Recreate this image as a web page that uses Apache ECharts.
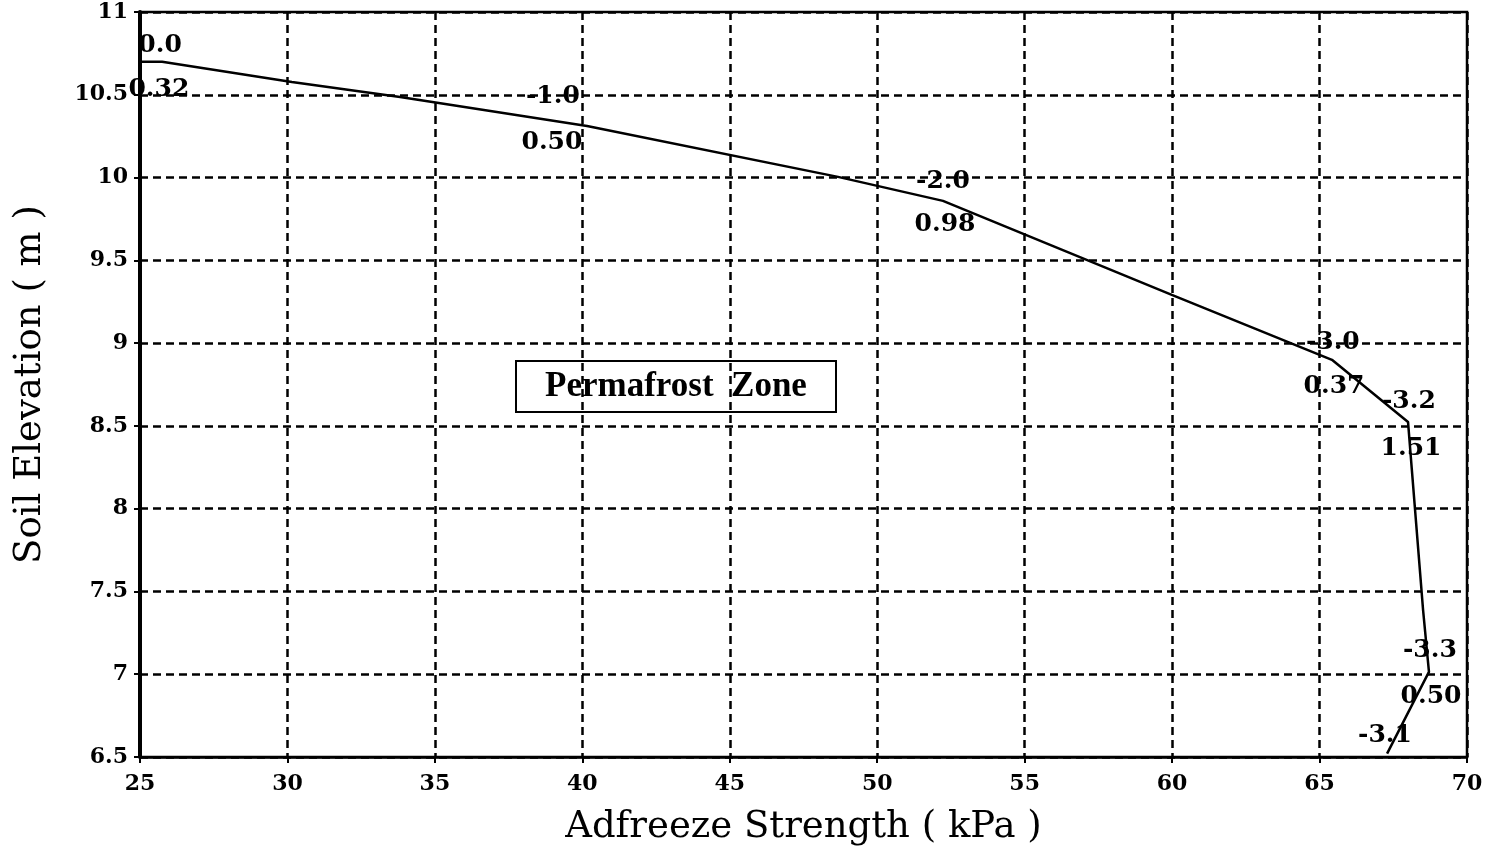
<!DOCTYPE html>
<html>
<head>
<meta charset="utf-8">
<script src="https://cdn.jsdelivr.net/npm/echarts@6/dist/echarts.min.js"></script>
<style>
html,body{margin:0;padding:0;background:#fff;}
#chart{width:1488px;height:848px;}
</style>
</head>
<body>
<div id="chart"></div>
<script>
// Profile curve: adfreeze strength (kPa) vs soil elevation (m)
const strength = [25.0, 25.75, 30.15, 33.82, 40.16, 48.67, 52.23, 59.99, 65.42, 68.0, 68.13, 68.51, 68.71, 67.29];
const elevation = [10.70, 10.70, 10.577, 10.487, 10.312, 10.004, 9.859, 9.291, 8.899, 8.524, 8.234, 7.389, 7.014, 6.52];

// Annotation labels (text and their anchor in data units)
const annText = ['0.0', '0.32', '-1.0', '0.50', '-2.0', '0.98', '-3.0', '0.37', '-3.2', '1.51', '-3.3', '0.50', '-3.1'];
const annX = [25.68, 25.64, 39.0, 38.97, 52.23, 52.30, 65.45, 65.49, 68.03, 68.10, 68.74, 68.78, 67.22];
const annY = [10.80, 10.529, 10.487, 10.209, 9.979, 9.714, 9.001, 8.735, 8.645, 8.361, 7.141, 6.864, 6.628];

const xTicks = { min: 25, max: 70, interval: 5 };
const yTicks = { min: 6.5, max: 11, interval: 0.5 };
const boxLabel = 'Permafrost  Zone';
const xTitle = 'Adfreeze Strength ( kPa )';
const yTitle = 'Soil Elevation ( m )';

const chart = echarts.init(document.getElementById('chart'));
const tickFont = { fontFamily: 'DejaVu Serif', fontWeight: 'bold', fontSize: 22, color: '#000' };
const dashed = { show: true, lineStyle: { color: '#000', width: 2.5, type: [8, 5] } };

const option = {
  animation: false,
  backgroundColor: '#fff',
  grid: { left: 140, right: 21, top: 12, bottom: 91, outerBoundsMode: 'none', containLabel: false, show: true, borderColor: '#000', borderWidth: 2.5, backgroundColor: 'transparent' },
  xAxis: {
    type: 'value', min: xTicks.min, max: xTicks.max, interval: xTicks.interval,
    name: xTitle, nameLocation: 'middle', nameGap: 52,
    nameTextStyle: { fontFamily: 'DejaVu Serif', fontSize: 37, color: '#000' },
    axisLine: { show: true, lineStyle: { color: '#000', width: 2.5 } },
    axisTick: { show: true, length: 6, lineStyle: { color: '#000', width: 2 } },
    axisLabel: Object.assign({ margin: 16 }, tickFont),
    splitLine: dashed
  },
  yAxis: {
    type: 'value', min: yTicks.min, max: yTicks.max, interval: yTicks.interval,
    name: yTitle, nameLocation: 'middle', nameGap: 91,
    nameTextStyle: { fontFamily: 'DejaVu Serif', fontSize: 37, color: '#000' },
    axisLine: { show: true, lineStyle: { color: '#000', width: 4 } },
    axisTick: { show: true, length: 6, lineStyle: { color: '#000', width: 2 } },
    axisLabel: Object.assign({ margin: 12 }, tickFont),
    splitLine: dashed
  },
  series: [
    {
      type: 'line',
      data: strength.map((v, i) => [v, elevation[i]]),
      showSymbol: false,
      lineStyle: { color: '#000', width: 2.5 },
      z: 3
    },
    {
      type: 'scatter',
      symbolSize: 0,
      itemStyle: { color: '#000', opacity: 1 },
      data: annText.map((t, i) => ({ name: t, value: [annX[i], annY[i]] })),
      label: {
        show: true, position: 'inside', formatter: p => p.name,
        fontFamily: 'DejaVu Serif', fontWeight: 'bold', fontSize: 25, color: '#000',
        textBorderWidth: 0, opacity: 1
      },
      emphasis: { disabled: true },
      z: 4
    }
  ],
  graphic: [
    {
      type: 'group', left: 515, top: 360,
      children: [
        { type: 'rect', shape: { x: 0, y: 0, width: 320, height: 51 }, style: { fill: '#fff', stroke: '#000', lineWidth: 2 } },
        { type: 'text', x: 160, y: 26, style: { text: boxLabel, fontFamily: 'Liberation Serif', fontWeight: 'bold', fontSize: 35, fill: '#000', textAlign: 'center', textVerticalAlign: 'middle' } }
      ]
    }
  ]
};
chart.setOption(option);
</script>
</body>
</html>
